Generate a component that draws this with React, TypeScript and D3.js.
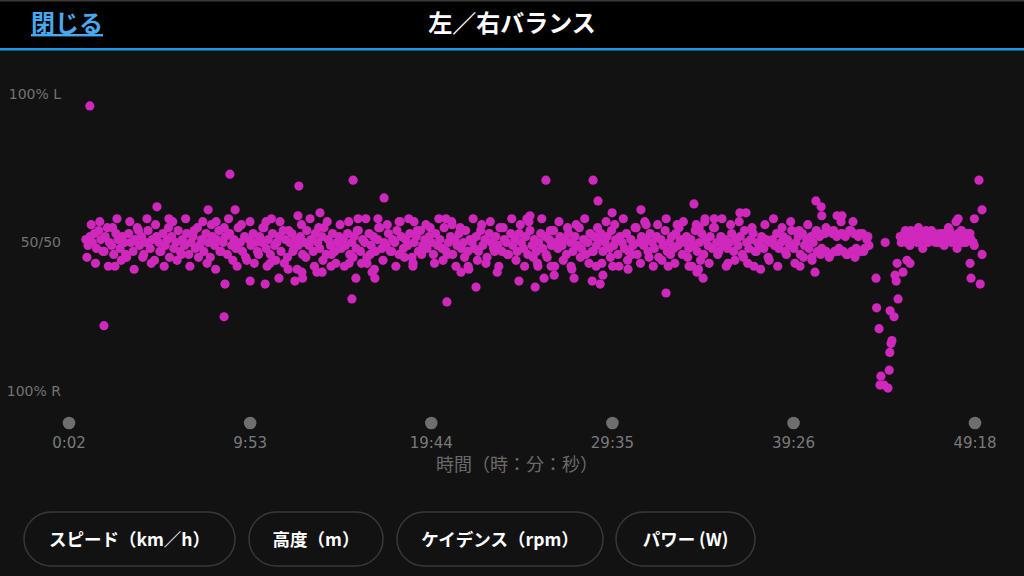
import React from "react";
import * as d3 from "d3";

// ---- data ----
const tickSeconds = [2, 593, 1184, 1775, 2366, 2958];
const tickLabels = ["0:02", "9:53", "19:44", "29:35", "39:26", "49:18"];
const yTickValues = [100, 50, 0];
const yTickLabels = ["100% L", "50/50", "100% R"];
const buttonLabels = ["スピード（km／h）", "高度（m）", "ケイデンス（rpm）", "パワー (W)"];

// main band, sampled every 7 s starting at 57 s (left balance %)
const bandAStart = 57;
const bandA2Start = 60.5;
const bandBStart = 2714;
const bandStep = 7;
const bandStep2 = 14;
const bandA = [
  51,49,52,50,53,48,54,51,47,52,55,50,49,46,53,51,48,52,50,45,
  53,50,47,51,55,49,52,46,50,54,48,51,44,52,50,47,53,49,51,45,
  52,48,50,54,47,51,49,53,46,50,52,48,55,49,51,47,53,50,45,52,
  49,51,54,47,50,52,46,53,49,51,48,55,50,47,52,44,51,49,53,50,
  47,52,50,55,48,51,46,53,49,50,52,47,54,51,45,50,53,48,51,49,
  52,46,50,54,49,51,47,53,50,48,52,55,46,51,49,53,47,50,52,48,
  51,49,53,46,50,52,48,54,47,51,50,45,53,49,52,47,51,55,48,50,
  49,53,47,51,50,54,46,52,48,51,49,53,45,50,52,47,54,49,51,48,
  52,50,46,53,49,51,48,55,47,50,52,46,51,49,53,48,50,54,47,51,
  50,48,52,47,54,49,51,45,53,50,48,52,49,55,47,51,50,46,53,49,
  51,47,53,50,48,52,46,54,49,51,47,50,53,48,52,45,51,49,54,50,
  48,52,49,51,46,53,50,47,52,49,55,48,51,46,50,53,47,52,49,51,
  53,47,50,52,48,54,49,51,46,52,50,48,53,47,51,49,55,46,50,52,
  49,51,47,53,50,48,52,45,51,49,54,47,50,52,48,53,49,51,46,50,
  52,48,51,49,54,47,50,53,46,51,49,52,48,55,50,47,52,49,51,48,
  50,53,47,51,49,52,46,54,50,48,51,53,47,50,49,52,48,51,45,50,
  51,49,53,48,50,52,47,51,49,54,48,50,52,46,53,49,51,48,52,50,
  53,47,52,48,53,47,54,46,53,47,52,48,53,47,52,46,54,47,53,48,
  52,47,53,48,51,49
];
// second interleaved sample set of the band (every 14 s), wider spread
const bandA2 = [
  45,56,43,57,47,42,55,58,44,46,57,41,54,45,58,43,56,47,42,55,
  57,44,46,58,42,54,45,57,43,56,41,47,55,58,44,42,56,45,57,43,
  46,55,42,58,44,57,43,54,47,41,56,45,58,42,55,44,57,46,43,56,
  42,57,45,54,43,58,46,41,55,44,56,47,42,57,45,58,43,54,46,56,
  55,43,58,44,46,57,42,55,45,41,58,44,56,43,57,47,42,55,46,58,
  44,56,42,57,45,43,58,46,54,42,57,44,55,41,56,45,58,43,47,55,
  43,57,45,56,42,58,44,46,55,43,57,45,42,56,44,58,46,43,55,57,
  45,42,56,44,57,43,55,46,58,42,56,44,57,45,43,55,47,41,56,44,
  58,42,55,46,57,43,54,45,56,44,
  54,46,53,45,54,47,53,46,54,45,53,47,52
];
const bandB = [
  52,51,53,50,52,54,51,52,50,53,51,52,54,50,52,51,53,52,50,51,
  53,52,51,54,50,52,51,53,52,50,51,53,52,51,50
];
const bandB2Start = 2717.5;
const bandB2 = [
  50,54,49,53,55,48,52,54,50,53,49,55,51,48,54,50,53,49
];

// scattered points [seconds, left %]
const outlierSeconds = [
  70,116,152,289,328,456,482,527,508,511,544,593,642,645,658,687,717,739,749,752,
  762,764,811,821,828,857,916,925,929,938,945,974,991,1000,1010,1030,1079,1124,1128,1232,
  1235,1252,1281,1304,1330,1399,1470,1496,1506,1523,1532,1552,1558,1575,1585,1640,1650,1709,1712,1722,
  1728,1735,1744,1774,1776,1826,1868,1885,1950,1957,1986,2025,2041,2051,2056,2058,2071,2077,2107,2152,
  2191,2211,2237,2387,2426,2436,2439,2456,2458,2472,2508,2524,2521,2560
];
const outlierValues = [
  96,22,42,62,58,61,57,73,25,36,61,37,36,57,43,38,41,37,59,69,
  40,38,40,60,40,42,43,31,71,38,58,43,40,38,58,65,57,42,57,58,
  30,56,40,42,35,40,37,58,59,35,42,38,71,42,39,42,38,37,71,42,
  64,36,39,60,42,41,61,56,33,42,56,42,63,40,41,55,38,58,58,43,
  60,60,42,42,45,40,64,62,59,55,59,59,57,57
];
// drop-out near the end and right edge scatter
const endSeconds = [
  2665,2635,2637,2645,2651,2648,2674,2661,2678,2680,2684,2687,2681,2694,2697,2701,2707,2704,2723,2736,
  2746,2896,2903,2956,2971,2981,2981,2942,2945,2975
];
const endValues = [
  50,38,28,21,5,2,1,2,7,13,16,17,27,25,39,37,31,43,40,44,
  43,57,58,58,71,61,46,43,38,36
];

const W = 1024;
const H = 576;
const BG = "#121212";
const DOT = "#d028bd";
const JP = "'Noto Sans CJK JP', 'Noto Sans', sans-serif";
const LAT = "'DejaVu Sans', 'Liberation Sans', sans-serif";

export default function App() {
  const x = d3.scaleLinear().domain([2, 2958]).range([69, 975]);
  const y = d3.scaleLinear().domain([0, 100]).range([391, 94]);

  const pts: [number, number][] = [];
  bandA.forEach((v, i) => pts.push([bandAStart + i * bandStep, v]));
  bandA2.forEach((v, i) => pts.push([bandA2Start + i * bandStep2, v]));
  bandB.forEach((v, i) => pts.push([bandBStart + i * bandStep, v]));
  bandB2.forEach((v, i) => pts.push([bandB2Start + i * bandStep2, v]));
  outlierSeconds.forEach((s, i) => pts.push([s, outlierValues[i]]));
  endSeconds.forEach((s, i) => pts.push([s, endValues[i]]));

  const pills = [
    { x0: 24, x1: 235 },
    { x0: 249, x1: 383 },
    { x0: 397, x1: 603 },
    { x0: 616, x1: 755 },
  ];

  return (
    <svg
      width={W}
      height={H}
      style={{ position: "fixed", left: 0, top: 0, display: "block" }}
    >
      <rect x={0} y={0} width={W} height={H} fill={BG} />
      {/* header */}
      <rect x={0} y={0} width={W} height={48} fill="#000" />
      <rect x={0} y={0} width={W} height={1.5} fill="#3a3a3a" />
      <rect x={0} y={48} width={W} height={2.5} fill="#1c98e0" />
      <text
        x={31}
        y={32}
        fill="#4aa8f0"
        fontFamily={JP}
        fontWeight={700}
        fontSize={24}
        textDecoration="underline"
      >
        閉じる
      </text>
      <text
        x={512}
        y={32}
        textAnchor="middle"
        fill="#fff"
        fontFamily={JP}
        fontWeight={700}
        fontSize={24}
      >
        左／右バランス
      </text>

      {/* y labels */}
      {yTickValues.map((v, i) => (
        <text
          key={v}
          x={61}
          y={y(v)}
          dy="0.35em"
          textAnchor="end"
          fill="#737373"
          fontFamily={LAT}
          fontSize={14}
        >
          {yTickLabels[i]}
        </text>
      ))}

      {/* points */}
      <g fill={DOT}>
        {pts.map((p, i) => (
          <circle key={i} cx={x(p[0])} cy={y(p[1])} r={4.6} />
        ))}
      </g>

      {/* x axis */}
      {tickSeconds.map((s, i) => (
        <g key={s}>
          <circle cx={x(s)} cy={423} r={6.3} fill="#6e6e6e" />
          <text
            x={x(s)}
            y={443}
            dy="0.35em"
            textAnchor="middle"
            fill="#7a7a7a"
            fontFamily={LAT}
            fontSize={15}
          >
            {tickLabels[i]}
          </text>
        </g>
      ))}
      <text
        x={517}
        y={465}
        dy="0.35em"
        textAnchor="middle"
        fill="#6a6a6a"
        fontFamily={JP}
        fontSize={18}
      >
        時間（時：分：秒）
      </text>

      {/* buttons */}
      {pills.map((p, i) => (
        <g key={i}>
          <rect
            x={p.x0}
            y={512}
            width={p.x1 - p.x0}
            height={54}
            rx={27}
            fill={BG}
            stroke="#383838"
            strokeWidth={1.5}
          />
          <text
            x={(p.x0 + p.x1) / 2}
            y={540}
            dy="0.35em"
            textAnchor="middle"
            fill="#fff"
            fontFamily={JP}
            fontWeight={700}
            fontSize={17.5}
          >
            {buttonLabels[i]}
          </text>
        </g>
      ))}
    </svg>
  );
}
